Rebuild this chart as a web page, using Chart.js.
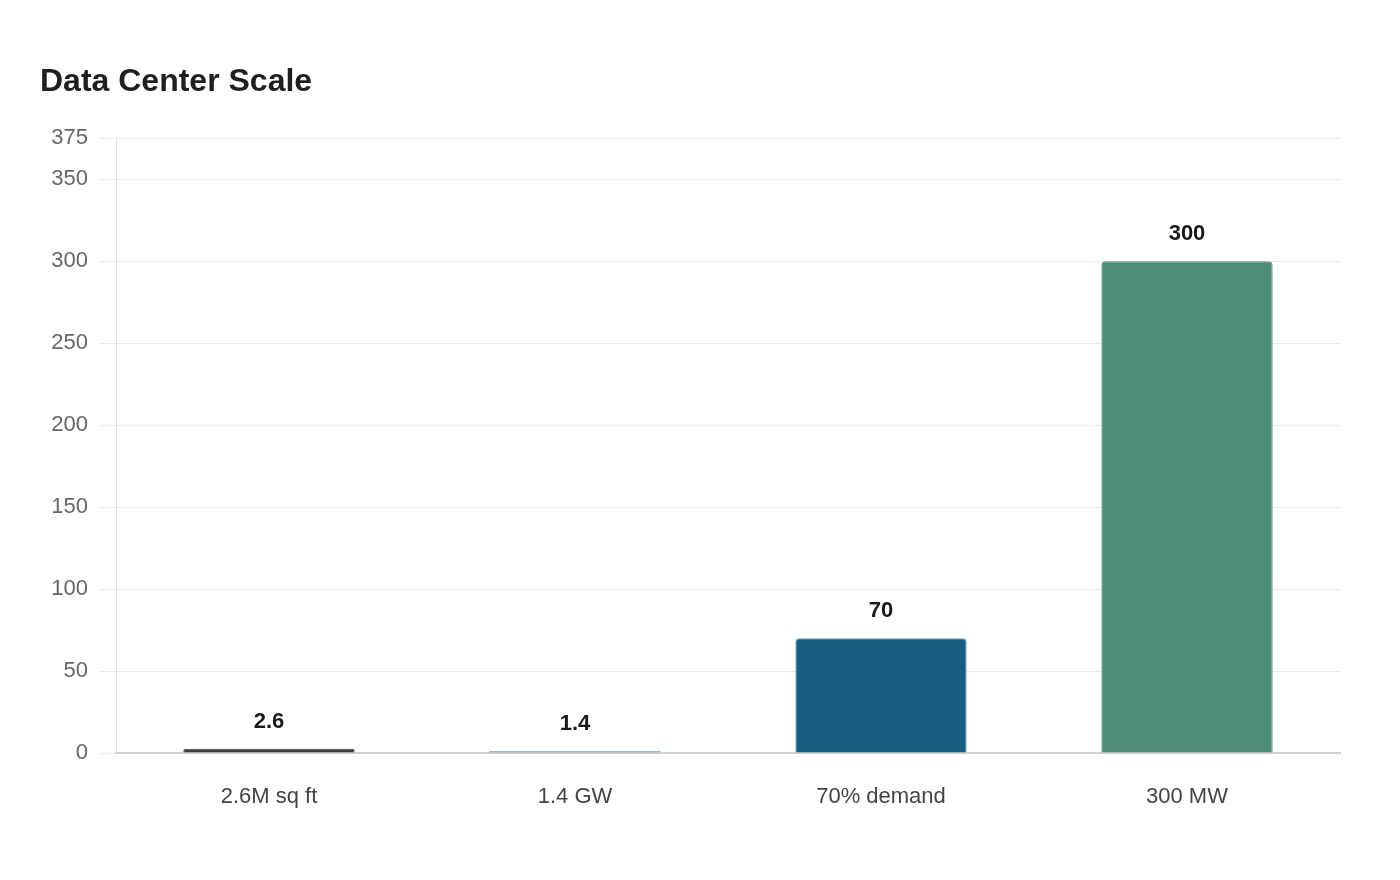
<!DOCTYPE html>
<html>
<head>
<meta charset="utf-8">
<script src="https://cdn.jsdelivr.net/npm/chart.js@4.4.0/dist/chart.umd.min.js"></script>
<style>
html,body{margin:0;padding:0;background:#fff;}
#wrap{width:1400px;height:880px;position:relative;}
</style>
</head>
<body>
<div id="wrap"><canvas id="c" width="1400" height="880"></canvas></div>
<script>
const categories = ["2.6M sq ft", "1.4 GW", "70% demand", "300 MW"];
const values = [2.6, 1.4, 70, 300];
const valueLabels = ["2.6", "1.4", "70", "300"];
const yTicks = [0, 50, 100, 150, 200, 250, 300, 350, 375];
const barColors = ["#3d3d3d", "#7aa7ac", "#175f82", "#4e8c7a"];
const barBorders = ["#4a4a4a", "#7aa7ac", "#6fa0a8", "#5f9887"];

const FONT = "'Liberation Sans', Arial, Helvetica, sans-serif";

const valueLabelPlugin = {
  id: 'valueLabels',
  afterDatasetsDraw(chart) {
    const ctx = chart.ctx;
    const meta = chart.getDatasetMeta(0);
    ctx.save();
    ctx.font = "bold 22px " + FONT;
    ctx.fillStyle = "#1a1a1a";
    ctx.textAlign = "center";
    ctx.textBaseline = "middle";
    meta.data.forEach((bar, i) => {
      ctx.fillText(valueLabels[i], bar.x, bar.y - 27);
    });
    ctx.restore();
  }
};

new Chart(document.getElementById('c'), {
  type: 'bar',
  data: {
    labels: categories,
    datasets: [{
      data: values,
      backgroundColor: barColors,
      borderColor: barBorders,
      borderWidth: 1,
      borderRadius: 4,
      borderSkipped: 'bottom',
      categoryPercentage: 0.8,
      barPercentage: 0.7
    }]
  },
  options: {
    responsive: false,
    animation: false,
    devicePixelRatio: 1,
    layout: { padding: { left: 40, right: 60, top: 0, bottom: 0 } },
    plugins: {
      legend: { display: false },
      tooltip: { enabled: false },
      title: {
        display: true,
        text: "Data Center Scale",
        align: 'start',
        color: "#1f1f1f",
        font: { family: FONT, size: 32, weight: 'bold', lineHeight: 1.2 },
        padding: { top: 63, bottom: 37 }
      }
    },
    scales: {
      x: {
        grid: { display: false, drawTicks: false },
        border: { display: true, color: "#d0d0d0", width: 2 },
        ticks: { color: "#444", font: { family: FONT, size: 22 }, padding: 31 },
        afterFit(scale) { scale.height = 127; }
      },
      y: {
        min: 0,
        max: 375,
        afterBuildTicks(scale) { scale.ticks = yTicks.map(v => ({ value: v })); },
        grid: { color: "#ebebeb", lineWidth: 1, tickLength: 16 },
        border: { display: true, color: "#e3e3e3", width: 1 },
        ticks: { color: "#666", font: { family: FONT, size: 22 }, padding: 12 },
        afterFit(scale) { scale.width = 76; }
      }
    }
  },
  plugins: [valueLabelPlugin]
});
</script>
</body>
</html>
